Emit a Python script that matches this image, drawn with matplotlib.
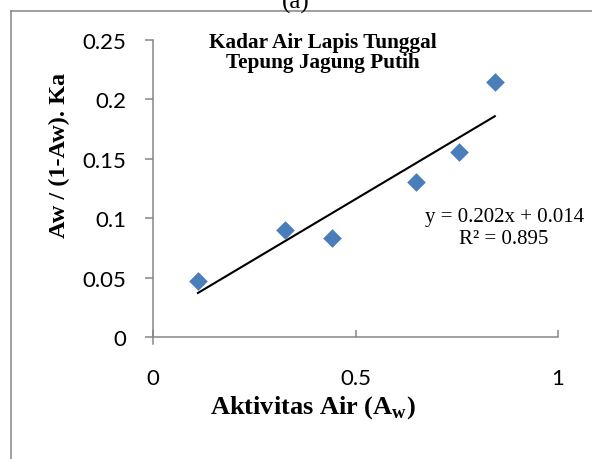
import matplotlib.pyplot as plt
import numpy as np
from matplotlib.lines import Line2D

# water activity vs Aw/((1-Aw).Ka)
aw = [0.111, 0.326, 0.441, 0.649, 0.756, 0.844]
bet = [0.0474, 0.0903, 0.0831, 0.1307, 0.156, 0.2144]

x_ticks = [0, 0.5, 1]
x_labels = ["0", "0.5", "1"]
y_ticks = [0, 0.05, 0.1, 0.15, 0.2, 0.25]
y_labels = ["0", "0.05", "0.1", "0.15", "0.2", "0.25"]

title = "Kadar Air Lapis Tunggal\nTepung Jagung Putih"
eq_text = "y = 0.202x + 0.014\nR² = 0.895"

serif = "Liberation Serif"
grey = "#868686"

fig = plt.figure(figsize=(5.92, 4.60), dpi=100)
ax = fig.add_axes([153 / 592, 1 - 338 / 460, 405 / 592, 297 / 460])

ax.scatter(aw, bet, marker="D", s=9.5 ** 2, color="#4a7ebb", linewidths=0, zorder=3)

# linear trendline across the data range
slope, icept = np.polyfit(aw, bet, 1)
xs = np.array([min(aw), max(aw)])
ax.plot(xs, slope * xs + icept, color="black", linewidth=1.5, zorder=2)

ax.set_xlim(0, 1)
ax.set_ylim(0, 0.25)
ax.set_xticks(x_ticks)
ax.set_xticklabels(x_labels)
ax.set_yticks(y_ticks)
ax.set_yticklabels(y_labels)

for side in ("top", "right"):
    ax.spines[side].set_visible(False)
for side in ("left", "bottom"):
    ax.spines[side].set_color(grey)
    ax.spines[side].set_linewidth(1.1)
# the vertical axis pokes a little below the horizontal one
ax.add_line(Line2D([0, 0], [0, -7 / 297], transform=ax.transAxes, color=grey,
                   linewidth=1.1, clip_on=False))

ax.tick_params(axis="x", direction="in", length=5, width=1.1, color=grey,
               pad=22, labelsize=16)
ax.tick_params(axis="y", direction="out", length=6, width=1.1, color=grey,
               pad=13, labelsize=16)
for lab in ax.get_xticklabels() + ax.get_yticklabels():
    lab.set_family("Lato")

ax.set_xlabel("Aktivitas Air (A$_\\mathregular{w}$)", family=serif,
              fontweight="bold", fontsize=19)
ax.xaxis.set_label_coords(0.395, -0.19)
ax.set_ylabel("Aw / (1-Aw). Ka", family=serif, fontweight="bold", fontsize=17.5)
ax.yaxis.set_label_coords(-0.205, 0.615)

ax.text(0.4185, 1.027, title, transform=ax.transAxes, ha="center", va="top",
        family=serif, fontweight="bold", fontsize=15.3, linespacing=0.98)
ax.text(0.867, 0.368, eq_text, transform=ax.transAxes, ha="center", va="center",
        multialignment="center", family=serif, fontsize=15, linespacing=1.22)

# cropped outer frame and caption from the source document
bx, by = 11 / 592, 1 - 12 / 460
fig.add_artist(Line2D([bx, bx], [0, by], color=grey, linewidth=1.1))
fig.add_artist(Line2D([bx, 1], [by, by], color=grey, linewidth=1.1))
fig.text(0.5, 1 - 9 / 460, "(a)", ha="center", va="baseline", family=serif,
         fontsize=18)

fig.savefig("out.png", dpi=100)
